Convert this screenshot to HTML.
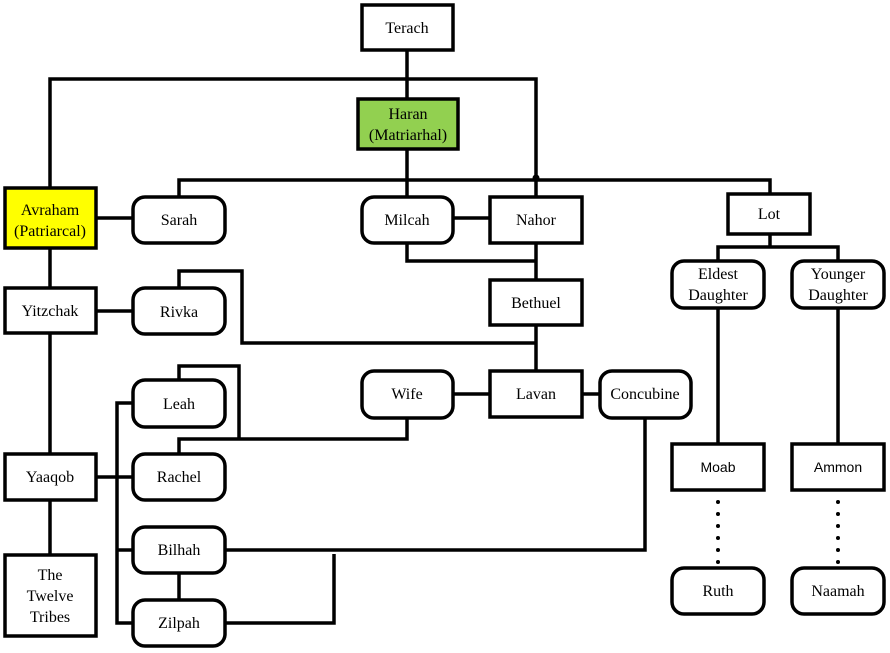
<!DOCTYPE html>
<html><head><meta charset="utf-8"><style>
html,body{margin:0;padding:0;background:#fff;}
svg{display:block;}
text{font-family:"Liberation Serif","Times New Roman",serif;font-size:16px;fill:#000;text-anchor:middle;}
.s{font-family:"Liberation Sans",sans-serif;font-size:14px;}
</style></head><body>
<svg width="890" height="653" viewBox="0 0 890 653" xmlns="http://www.w3.org/2000/svg">
<g stroke="#000" stroke-width="3.5" fill="none" stroke-linejoin="miter">
<polyline points="407,50 407,99"/>
<polyline points="50,188 50,79 536,79 536,197"/>
<polyline points="407,149 407,197"/>
<polyline points="179,197 179,180 770,180 770,194"/>
<line x1="96" y1="218" x2="133" y2="218"/>
<line x1="453" y1="218" x2="490" y2="218"/>
<polyline points="407,243 407,261 536,261"/>
<line x1="536" y1="243" x2="536" y2="280"/>
<line x1="536" y1="325" x2="536" y2="371"/>
<polyline points="179,288 179,271 242,271 242,343 536,343"/>
<line x1="50" y1="248" x2="50" y2="288"/>
<line x1="96" y1="311" x2="133" y2="311"/>
<line x1="50" y1="333" x2="50" y2="454"/>
<line x1="50" y1="500" x2="50" y2="555"/>
<line x1="96" y1="477" x2="133" y2="477"/>
<polyline points="133,403 117,403 117,623 133,623"/>
<line x1="117" y1="550" x2="133" y2="550"/>
<polyline points="179,380 179,366 239,366 239,439"/>
<polyline points="179,454 179,439 407,439 407,418"/>
<line x1="453" y1="394" x2="490" y2="394"/>
<line x1="582" y1="394" x2="600" y2="394"/>
<polyline points="645,418 645,550 225,550"/>
<line x1="179" y1="573" x2="179" y2="600"/>
<polyline points="225,623 334,623 334,554"/>
<line x1="770" y1="234" x2="770" y2="247"/>
<polyline points="718,261 718,247 838,247 838,261"/>
<line x1="718" y1="308" x2="718" y2="444"/>
<line x1="838" y1="308" x2="838" y2="444"/>
</g>
<circle cx="536" cy="178" r="3.5" fill="#000"/>
<g fill="#000">
<circle cx="718" cy="502" r="2"/><circle cx="718" cy="514" r="2"/><circle cx="718" cy="526" r="2"/><circle cx="718" cy="538" r="2"/><circle cx="718" cy="550" r="2"/><circle cx="718" cy="562" r="2"/>
<circle cx="838" cy="502" r="2"/><circle cx="838" cy="514" r="2"/><circle cx="838" cy="526" r="2"/><circle cx="838" cy="538" r="2"/><circle cx="838" cy="550" r="2"/><circle cx="838" cy="562" r="2"/>
</g>
<g stroke="#000" stroke-width="3.5" fill="#fff">
<rect x="362" y="5" width="91" height="45"/>
<rect x="358" y="99" width="100" height="50" fill="#92d050"/>
<rect x="5" y="188" width="91" height="60" fill="#ffff00"/>
<rect x="133" y="197" width="92" height="46" rx="12"/>
<rect x="362" y="197" width="91" height="46" rx="12"/>
<rect x="490" y="197" width="92" height="46"/>
<rect x="728" y="194" width="82" height="40"/>
<rect x="672" y="261" width="92" height="47" rx="12"/>
<rect x="792" y="261" width="92" height="47" rx="12"/>
<rect x="5" y="288" width="91" height="45"/>
<rect x="133" y="288" width="92" height="46" rx="12"/>
<rect x="490" y="280" width="92" height="45"/>
<rect x="133" y="380" width="92" height="47" rx="12"/>
<rect x="362" y="371" width="91" height="47" rx="12"/>
<rect x="490" y="371" width="92" height="46"/>
<rect x="600" y="371" width="91" height="47" rx="12"/>
<rect x="5" y="454" width="91" height="46"/>
<rect x="133" y="454" width="92" height="46" rx="12"/>
<rect x="672" y="444" width="92" height="46"/>
<rect x="792" y="444" width="92" height="46"/>
<rect x="133" y="527" width="92" height="46" rx="12"/>
<rect x="5" y="555" width="91" height="81"/>
<rect x="672" y="568" width="92" height="46" rx="12"/>
<rect x="792" y="568" width="92" height="46" rx="12"/>
<rect x="133" y="600" width="92" height="46" rx="12"/>
</g>
<text x="407" y="33">Terach</text>
<text x="408" y="119">Haran</text>
<text x="408" y="140">(Matriarhal)</text>
<text x="50" y="215">Avraham</text>
<text x="50" y="236">(Patriarcal)</text>
<text x="179" y="225">Sarah</text>
<text x="407" y="225">Milcah</text>
<text x="536" y="225">Nahor</text>
<text x="769" y="219">Lot</text>
<text x="718" y="279">Eldest</text>
<text x="718" y="300">Daughter</text>
<text x="838" y="279">Younger</text>
<text x="838" y="300">Daughter</text>
<text x="50" y="316">Yitzchak</text>
<text x="179" y="317">Rivka</text>
<text x="536" y="308">Bethuel</text>
<text x="179" y="409">Leah</text>
<text x="407" y="399">Wife</text>
<text x="536" y="399">Lavan</text>
<text x="645" y="399">Concubine</text>
<text x="50" y="482">Yaaqob</text>
<text x="179" y="482">Rachel</text>
<text class="s" x="718" y="472">Moab</text>
<text class="s" x="838" y="472">Ammon</text>
<text x="179" y="555">Bilhah</text>
<text x="50" y="580">The</text>
<text x="50" y="601">Twelve</text>
<text x="50" y="622">Tribes</text>
<text x="718" y="596">Ruth</text>
<text x="838" y="596">Naamah</text>
<text x="179" y="628">Zilpah</text>
</svg>
</body></html>
